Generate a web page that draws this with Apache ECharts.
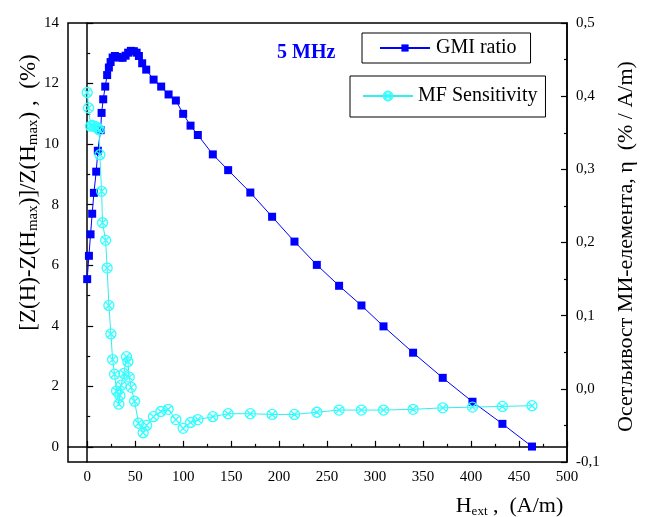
<!DOCTYPE html>
<html>
<head>
<meta charset="utf-8">
<script src="https://cdn.jsdelivr.net/npm/echarts@6/dist/echarts.min.js"></script>
<style>html,body{margin:0;padding:0;background:#fff}#c{width:652px;height:517px}</style>
</head>
<body>
<div id="c"></div>
<script>
// GMI ratio (left axis, %)
var gmiH = [0, 1.8, 3.5, 5.2, 7.0, 9.4, 11.1, 14.0, 15.0, 16.7, 18.8, 20.8, 22.6, 24.4, 26.5, 28.9, 31.3, 34.1, 36.9, 40.0, 42.7, 45.5, 48.6, 51.5, 53.9, 57.3, 61.5, 69.2, 77.1, 84.8, 92.4, 100, 107.7, 115.3, 130.9, 146.9, 170, 192.7, 216, 239.3, 262.5, 285.8, 308.8, 339.6, 370.5, 401.5, 432.7, 463.5];
var gmiRatio = [5.54, 6.31, 7.02, 7.70, 8.39, 9.09, 9.78, 10.46, 11.03, 11.48, 11.90, 12.28, 12.53, 12.71, 12.86, 12.91, 12.88, 12.86, 12.85, 12.92, 13.02, 13.08, 13.07, 13.02, 12.91, 12.67, 12.46, 12.13, 11.90, 11.64, 11.44, 11.0, 10.61, 10.30, 9.66, 9.14, 8.40, 7.60, 6.78, 6.01, 5.32, 4.67, 3.98, 3.11, 2.28, 1.49, 0.76, 0.01];
// MF sensitivity (right axis, %/(A/m))
var mfH = [0, 1.5, 3.5, 5.2, 7.0, 9.4, 11.1, 12.5, 13.2, 15.0, 16.0, 19.2, 20.8, 22.6, 24.7, 26.5, 28.5, 30.6, 33.0, 34.1, 35.4, 38.2, 41.0, 42.4, 43.8, 45.8, 49.4, 53.5, 58.3, 61.9, 69, 76.8, 84.4, 92.4, 100, 107.7, 115.3, 130.9, 146.9, 170, 192.7, 216, 239.3, 262.5, 285.8, 308.8, 339.6, 370.5, 401.5, 432.7, 463.5];
var mfSens = [0.405, 0.384, 0.359, 0.360, 0.359, 0.358, 0.356, 0.354, 0.320, 0.270, 0.227, 0.203, 0.165, 0.114, 0.075, 0.040, 0.020, -0.003, -0.021, -0.009, 0.005, 0.021, 0.044, 0.037, 0.016, 0.002, -0.017, -0.047, -0.060, -0.050, -0.038, -0.031, -0.028, -0.042, -0.054, -0.046, -0.042, -0.038, -0.034, -0.034, -0.035, -0.035, -0.032, -0.029, -0.029, -0.029, -0.028, -0.026, -0.025, -0.024, -0.023];
// ticks
var xMajor = [0, 50, 100, 150, 200, 250, 300, 350, 400, 450, 500];
var xMinor = [25, 75, 125, 175, 225, 275, 325, 375, 425, 475];
var yMajor = [0, 2, 4, 6, 8, 10, 12, 14];
var yMinor = [1, 3, 5, 7, 9, 11, 13];

var FONT = 'Liberation Serif';
function zip(a, b) { return a.map(function (v, i) { return [v, b[i]]; }); }
var circX = 'path://M0,-10 A10,10 0 1,1 0,10 A10,10 0 1,1 0,-10 Z M-7.07,-7.07 L7.07,7.07 M7.07,-7.07 L-7.07,7.07';

var chart = echarts.init(document.getElementById('c'), null, {renderer: 'canvas'});
var lbl = {color: '#000', fontFamily: FONT, fontSize: 15};
chart.setOption({
  backgroundColor: '#fff',
  animation: false,
  title: {text: '5 MHz', left: 277, top: 43, padding: 0,
    textStyle: {fontFamily: FONT, fontWeight: 'bold', fontSize: 20, color: '#0000ff'}},
  legend: [
    {data: ['GMI ratio'], left: 362, top: 33, orient: 'horizontal',
     borderColor: '#000', borderWidth: 1, padding: [5, 14, 5, 17],
     itemWidth: 50, itemHeight: 9, itemGap: 0,
     textStyle: {fontFamily: FONT, fontSize: 20, color: '#000', padding: [0, 0, 0, 1]}},
    {data: ['MF Sensitivity'], left: 350, top: 76,
     borderColor: '#000', borderWidth: 1, padding: [10, 8, 11, 12],
     itemWidth: 50, itemHeight: 11, itemGap: 0,
     textStyle: {fontFamily: FONT, fontSize: 20, color: '#000'}}
  ],
  grid: {left: 68, right: 85, top: 23, bottom: 55, outerBoundsMode: 'none', containLabel: false,
    show: true, borderColor: '#000', borderWidth: 1.5, backgroundColor: 'transparent'},
  xAxis: [
    {type: 'value', min: -20, max: 500, position: 'bottom',
     axisLine: {show: true, lineStyle: {color: '#000', width: 1.5}},
     axisTick: {show: true, inside: true, length: 6, customValues: xMajor, lineStyle: {color: '#000', width: 1.2}},
     axisLabel: Object.assign({customValues: xMajor, margin: 8}, lbl),
     splitLine: {show: false},
     name: '{n|H}{s|ext}{n| ,  (A/m)}', nameLocation: 'middle', nameGap: 32, nameMoveOverlap: false,
     nameTextStyle: {padding: [0, 0, 0, 384], rich: {
       n: {fontFamily: FONT, fontSize: 22, color: '#000', lineHeight: 24},
       s: {fontFamily: FONT, fontSize: 13, color: '#000', lineHeight: 12, verticalAlign: 'bottom'}}}},
    {type: 'value', min: -20, max: 500, position: 'bottom',
     axisLine: {show: false},
     axisTick: {show: true, inside: true, length: 3, customValues: xMinor, lineStyle: {color: '#000', width: 1.2}},
     axisLabel: {show: false}, splitLine: {show: false}}
  ],
  yAxis: [
    {type: 'value', min: -0.5, max: 14, position: 'left',
     axisLine: {show: true, lineStyle: {color: '#000', width: 1.5}},
     axisTick: {show: true, inside: true, length: 6, customValues: yMajor, lineStyle: {color: '#000', width: 1.2}},
     axisLabel: Object.assign({customValues: yMajor, margin: 9}, lbl),
     splitLine: {show: false},
     name: '{n|[Z(H)-Z(H}{s|max}{n|)]/Z(H}{s|max}{n|) ,  (%)}', nameLocation: 'middle', nameRotate: 90, nameGap: 27, nameMoveOverlap: false,
     nameTextStyle: {padding: [0, 0, 0, 100], rich: {
       n: {fontFamily: FONT, fontSize: 23, color: '#000', lineHeight: 25},
       s: {fontFamily: FONT, fontSize: 15, color: '#000', lineHeight: 14, verticalAlign: 'bottom'}}}},
    {type: 'value', min: -0.5, max: 14, position: 'left',
     axisLine: {show: false},
     axisTick: {show: true, inside: true, length: 3, customValues: yMinor, lineStyle: {color: '#000', width: 1.2}},
     axisLabel: {show: false}, splitLine: {show: false}},
    {type: 'value', min: -0.1, max: 0.5, interval: 0.1, position: 'right',
     axisLine: {show: true, lineStyle: {color: '#000', width: 1.5}},
     axisTick: {show: true, inside: true, length: 6, lineStyle: {color: '#000', width: 1.2}},
     minorTick: {show: true, splitNumber: 2, length: 3, lineStyle: {color: '#000', width: 1.2}},
     axisLabel: Object.assign({margin: 9, formatter: function (v) {
       if (Math.abs(v) < 1e-9) v = 0; return v.toFixed(1).replace('.', ',');}}, lbl),
     splitLine: {show: false}, minorSplitLine: {show: false},
     name: 'Осетљивост МИ-елемента, η  (% / A/m)', nameLocation: 'middle', nameRotate: 90, nameGap: 48,
     nameTextStyle: {fontFamily: FONT, fontSize: 22, color: '#000', padding: [0, 8, 0, 0]}}
  ],
  series: [
    {name: 'GMI ratio', type: 'line', xAxisIndex: 0, yAxisIndex: 0,
     data: zip(gmiH, gmiRatio), symbol: 'rect', symbolSize: 8,
     itemStyle: {color: '#0000ff'}, lineStyle: {color: '#0000ff', width: 1}, z: 3},
    {name: 'MF Sensitivity', type: 'line', xAxisIndex: 0, yAxisIndex: 2,
     data: zip(mfH, mfSens), symbol: circX, symbolSize: 10,
     itemStyle: {color: 'rgba(255,255,255,0)', borderColor: '#33ffff', borderWidth: 1.3},
     lineStyle: {color: '#33eeee', width: 1}, z: 4}
  ]
});
</script>
</body>
</html>
